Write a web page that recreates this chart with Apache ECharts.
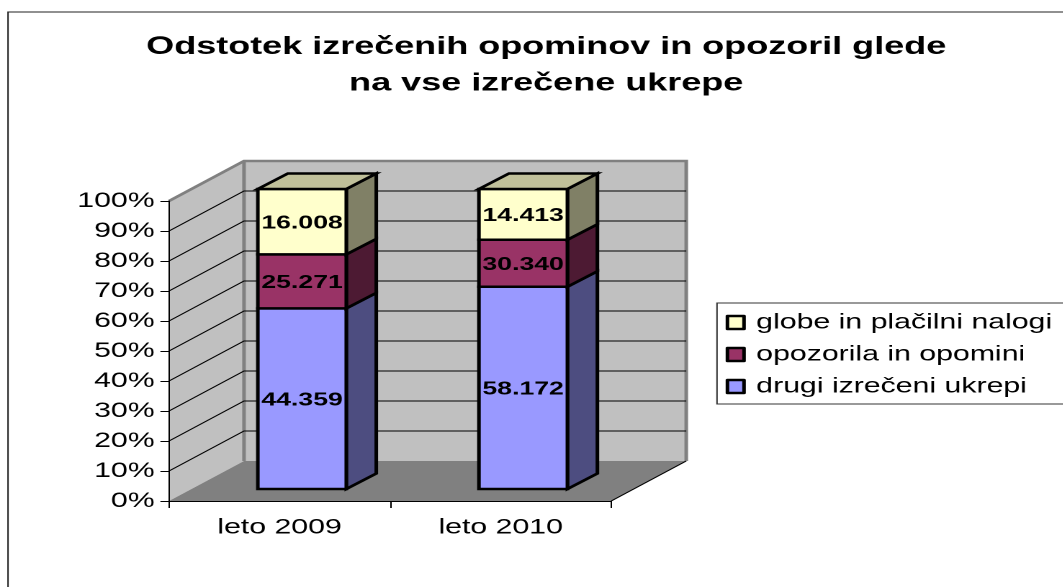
<!DOCTYPE html>
<html>
<head>
<meta charset="utf-8">
<style>
html,body{margin:0;padding:0;background:#fff;overflow:hidden;width:1063px;height:587px}
#c{position:absolute;left:0;top:0;height:587px;transform-origin:0 0}
</style>
<script src="https://cdn.jsdelivr.net/npm/echarts@6/dist/echarts.min.js"></script>
</head>
<body>
<div id="c"></div>
<script>
// The reference picture is stretched horizontally; the whole chart is stretched the same way.
var STRETCH = 1.44;
var categories = ['leto 2009', 'leto 2010'];
var seriesNames = ['drugi izrečeni ukrepi', 'opozorila in opomini', 'globe in plačilni nalogi'];
var drugiHeights = [60.2, 67.4];
var opozorilaHeights = [18.0, 15.7];
var globeHeights = [21.8, 16.9];
var drugiLabels = ['44.359', '58.172'];
var opozorilaLabels = ['25.271', '30.340'];
var globeLabels = ['16.008', '14.413'];
var wallTicks = [10, 20, 30, 40, 50, 60, 70, 80, 90];
var titleText = 'Odstotek izrečenih opominov in opozoril glede\nna vse izrečene ukrepe';

var W = 1063 / STRETCH;
var el = document.getElementById('c');
el.style.width = W + 'px';
el.style.transform = 'scaleX(' + STRETCH + ')';

var FONT = '"Liberation Sans", Arial, sans-serif';
var WALL = {dx: 75 / STRETCH, dy: -40};
var BAR_FRONT = {dx: 22.5 / STRETCH, dy: -12};
var BAR_DEPTH = {dx: 30 / STRETCH, dy: -15.5};
var BAR_RATIO = 0.4;
var EDGE = 2.5;

function poly(points, fill, stroke, lw) {
  return {type: 'polygon', shape: {points: points},
    style: {fill: fill, stroke: stroke || null, lineWidth: lw || 0, lineJoin: 'miter'}};
}
function pline(points, stroke, lw) {
  return {type: 'polyline', shape: {points: points},
    style: {fill: null, stroke: stroke, lineWidth: lw}};
}

function renderWalls(params) {
  var g = params.coordSys, L = g.x, R = g.x + g.width, T = g.y, B = g.y + g.height;
  var dx = WALL.dx, dy = WALL.dy;
  return {type: 'group', children: [
    poly([[L + dx, T + dy], [R + dx, T + dy], [R + dx, B + dy], [L + dx, B + dy]], '#C0C0C0'),
    poly([[L, T], [L + dx, T + dy], [L + dx, B + dy], [L, B]], '#C0C0C0'),
    poly([[L, B], [L + dx, B + dy], [R + dx, B + dy], [R, B]], '#808080'),
    pline([[L, T], [L + dx, T + dy], [R + dx, T + dy], [R + dx, B + dy]], '#808080', 2.5),
    pline([[L + dx, T + dy], [L + dx, B + dy]], '#808080', 2.5),
    pline([[R, B], [R + dx, B + dy]], '#000', 1)
  ]};
}

function renderGridline(params, api) {
  var g = params.coordSys;
  var y = api.coord([0, api.value(1)])[1];
  var L = g.x, R = g.x + g.width, dx = WALL.dx, dy = WALL.dy;
  return {type: 'group', children: [
    pline([[L, y], [L + dx, y + dy], [R + dx, y + dy]], '#000', 1)
  ]};
}

function makeBarRender(front, side, top, labels, drawTop) {
  return function (params, api) {
    var cat = api.value(0);
    var p0 = api.coord([cat, api.value(1)]);
    var p1 = api.coord([cat, api.value(2)]);
    var bw = api.size([1, 0])[0] * BAR_RATIO;
    var xl = p0[0] - bw / 2 + BAR_FRONT.dx, xr = xl + bw;
    var yb = p0[1] + BAR_FRONT.dy, yt = p1[1] + BAR_FRONT.dy;
    var dx = BAR_DEPTH.dx, dy = BAR_DEPTH.dy;
    var children = [
      poly([[xr, yt], [xr + dx, yt + dy], [xr + dx, yb + dy], [xr, yb]], side, '#000', EDGE),
      poly([[xl, yt], [xr, yt], [xr, yb], [xl, yb]], front, '#000', EDGE)
    ];
    if (drawTop) {
      children.push(poly([[xl, yt], [xl + dx, yt + dy], [xr + dx, yt + dy], [xr, yt]], top, '#000', EDGE));
    }
    children.push({type: 'text', style: {
      text: labels[params.dataIndex], x: (xl + xr) / 2, y: (yb + yt) / 2 + 1.5,
      align: 'center', verticalAlign: 'middle', fill: '#000',
      font: 'bold 18.5px ' + FONT
    }});
    return {type: 'group', children: children};
  };
}

function rows(heights, bases) {
  return heights.map(function (h, i) { return [i, bases[i], bases[i] + h]; });
}
var base0 = categories.map(function () { return 0; });
var base1 = base0.map(function (b, i) { return b + drugiHeights[i]; });
var base2 = base1.map(function (b, i) { return b + opozorilaHeights[i]; });

function barSeries(name, heights, bases, front, side, top, labels, drawTop) {
  return {
    type: 'custom', name: name, coordinateSystem: 'cartesian2d', z: 5,
    itemStyle: {color: front, borderColor: '#000', borderWidth: 2.5},
    encode: {x: 0, y: [1, 2]}, clip: false,
    renderItem: makeBarRender(front, side, top, labels, drawTop),
    data: rows(heights, bases)
  };
}

var chart = echarts.init(el, null, {renderer: 'canvas', devicePixelRatio: 2});
chart.setOption({
  animation: false,
  backgroundColor: '#fff',
  title: {
    text: titleText, left: 539 / STRETCH, top: 24, textAlign: 'center',
    textStyle: {fontFamily: FONT, fontWeight: 'bold', fontSize: 25, lineHeight: 36.5, color: '#000'}
  },
  graphic: [
    {type: 'polyline', z: 0, shape: {points: [[8 / STRETCH, 587], [8 / STRETCH, 12], [W, 12]]},
      style: {fill: null, stroke: '#222', lineWidth: 1}}
  ],
  legend: {
    orient: 'vertical', left: 717 / STRETCH, top: 303,
    padding: [9, 40, 7, 6], itemGap: 11, itemWidth: 11.5, itemHeight: 13,
    backgroundColor: '#fff', borderColor: '#333', borderWidth: 1,
    icon: 'rect', selectedMode: false,
    itemStyle: {borderColor: '#000', borderWidth: 2.5, borderJoin: 'round'},
    textStyle: {fontFamily: FONT, fontSize: 21, color: '#000', padding: [1, 0, 0, 3.5]},
    data: [seriesNames[2], seriesNames[1], seriesNames[0]]
  },
  grid: {left: 169 / STRETCH, right: (1063 - 611.5) / STRETCH, top: 201, bottom: 86, containLabel: false},
  xAxis: {
    type: 'category', data: categories, z: 10,
    axisLine: {show: true, lineStyle: {color: '#000', width: 1}},
    axisTick: {show: true, length: 7, lineStyle: {color: '#000', width: 1}},
    axisLabel: {fontFamily: FONT, fontSize: 21, color: '#000', margin: 16},
    splitLine: {show: false}
  },
  yAxis: {
    type: 'value', min: 0, max: 100, interval: 10, z: 10,
    axisLine: {show: true, lineStyle: {color: '#000', width: 1}},
    axisTick: {show: true, length: 6, lineStyle: {color: '#000', width: 1}},
    axisLabel: {formatter: '{value}%', fontFamily: FONT, fontSize: 21, color: '#000', margin: 10, padding: [8, 0, 0, 0]},
    splitLine: {show: false}
  },
  series: [
    {type: 'custom', name: 'walls', coordinateSystem: 'cartesian2d', z: 1, clip: false, silent: true,
      renderItem: renderWalls, encode: {x: 0, y: 1}, data: [[0, 0]]},
    {type: 'custom', name: 'gridlines', coordinateSystem: 'cartesian2d', z: 2, clip: false, silent: true,
      renderItem: renderGridline, encode: {x: 0, y: 1},
      data: wallTicks.map(function (t) { return [0, t]; })},
    barSeries(seriesNames[0], drugiHeights, base0, '#9999FF', '#4D4D80', null, drugiLabels, false),
    barSeries(seriesNames[1], opozorilaHeights, base1, '#993366', '#4D1A33', null, opozorilaLabels, false),
    barSeries(seriesNames[2], globeHeights, base2, '#FFFFCC', '#808066', '#C0C09A', globeLabels, true)
  ]
});
</script>
</body>
</html>
